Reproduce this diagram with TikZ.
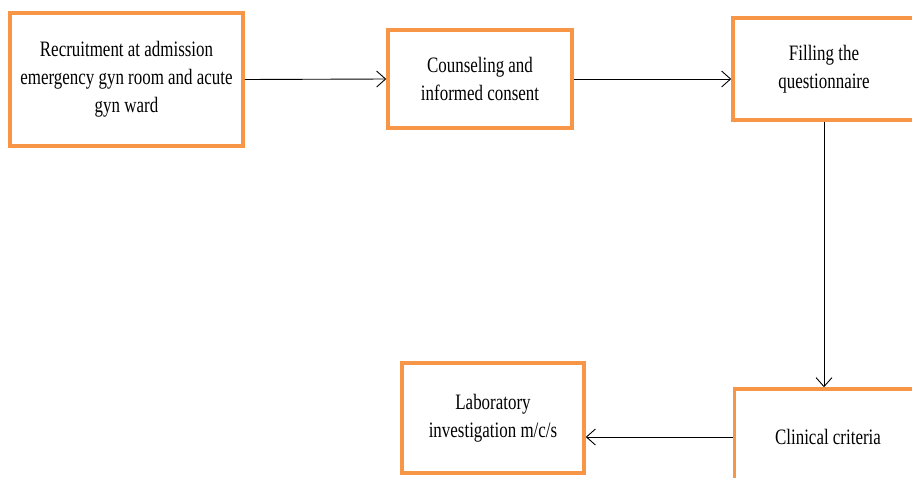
\documentclass[tikz,border=0pt]{standalone}
\usepackage{fontspec}
\setmainfont{Liberation Serif}[FakeStretch=0.77]
\usepackage{tikz}
\usetikzlibrary{arrows.meta}
\definecolor{boxorange}{RGB}{247,150,70}

\begin{document}
\begin{tikzpicture}[
    x=1pt, y=-1pt,
    punkt/.style = {rectangle, draw=boxorange, line width=3.5pt, align=center, inner sep=0pt},
    pil/.style = {black, line width=0.9pt, -{Straight Barb[length=9pt, width=16pt]}},
    font=\fontsize{22}{28}\selectfont
    ]
  \clip (0,0) rectangle (912,477);
  \fill[white] (0,0) rectangle (912,477);

  \node[punkt, minimum width=233pt, minimum height=133pt] (recruit) at (126.5,79.5)
    {Recruitment at admission\\emergency gyn room and acute\\gyn ward} ;
  \node[punkt, minimum width=184pt, minimum height=98pt] (consent) at (480,79)
    {Counseling and\\informed consent} ;
  \node[punkt, minimum width=182pt, minimum height=102pt] (quest) at (824,69)
    {Filling the\\questionnaire} ;
  \node[punkt, minimum width=187pt, minimum height=96pt] (clinic) at (828,437)
    {Clinical criteria} ;
  \node[punkt, minimum width=182pt, minimum height=110pt] (lab) at (493,418)
    {Laboratory\\investigation m/c/s} ;

  \draw[pil] (recruit.east) -- (consent.west) ;
  \draw[pil] (consent.east) -- (consent.east -| quest.west) ;
  \draw[pil] (quest.south) -- (quest.south |- clinic.north) ;
  \draw[pil] (clinic.west) -- (clinic.west -| lab.east) ;
\end{tikzpicture}
\end{document}
